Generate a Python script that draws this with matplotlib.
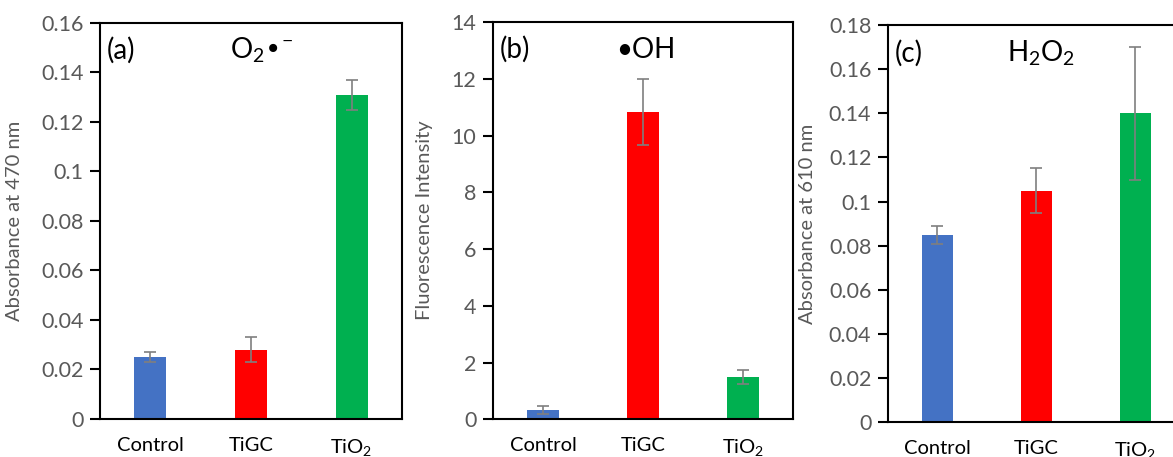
import matplotlib.pyplot as plt

plt.rcParams['font.family'] = ['Lato', 'DejaVu Sans']
plt.rcParams['mathtext.default'] = 'regular'

categories = ['Control', 'TiGC', 'TiO$_2$']
colors = ['#4472C4', '#FF0000', '#00B050']

# (a) superoxide
o2_vals = [0.025, 0.028, 0.131]
o2_err = [0.002, 0.005, 0.006]
# (b) hydroxyl radical
oh_vals = [0.33, 10.83, 1.49]
oh_err = [0.14, 1.15, 0.23]
# (c) hydrogen peroxide
h2o2_vals = [0.085, 0.105, 0.14]
h2o2_err = [0.004, 0.01, 0.03]

panels = [
    dict(vals=o2_vals, err=o2_err, ylim=(0, 0.16), step=0.02, ylabel='Absorbance at 470 nm',
         tag='(a)', title='O$_2$•$^{-}$', tx=0.43, pos=[0.0853, 0.0832, 0.2574, 0.8665], lx=-0.255),
    dict(vals=oh_vals, err=oh_err, ylim=(0, 14), step=2, ylabel='Fluorescence Intensity',
         tag='(b)', title='•OH', tx=0.41, pos=[0.4203, 0.0825, 0.2557, 0.8694], lx=-0.20),
    dict(vals=h2o2_vals, err=h2o2_err, ylim=(0, 0.18), step=0.02, ylabel='Absorbance at 610 nm',
         tag='(c)', title='H$_2$O$_2$', tx=0.40, pos=[0.757, 0.0759, 0.2532, 0.8694], lx=-0.243),
]

fig = plt.figure(figsize=(11.73, 4.57), dpi=100)

for p in panels:
    ax = fig.add_axes(p['pos'])
    x = range(len(categories))
    ax.bar(x, p['vals'], width=0.32, color=colors, yerr=p['err'],
           error_kw=dict(ecolor='#7F7F7F', elinewidth=1.2, capsize=4, capthick=1.2))
    ax.set_xlim(-0.5, 2.5)
    ax.set_ylim(*p['ylim'])
    n = int(round(p['ylim'][1] / p['step']))
    ticks = [i * p['step'] for i in range(n + 1)]
    ax.set_yticks(ticks)
    ax.set_yticklabels(['0'] + ['%g' % round(t, 2) for t in ticks[1:]])
    ax.set_xticks(list(x))
    ax.set_xticklabels(categories, fontsize=14.5, color='black')
    ax.tick_params(axis='x', length=0, pad=13)
    ax.tick_params(axis='y', direction='out', length=7, width=1.5, labelsize=15.5,
                   labelcolor='#595959', pad=5)
    for s in ax.spines.values():
        s.set_linewidth(1.5)
        s.set_color('black')
    ax.set_ylabel(p['ylabel'], fontsize=14.5, color='#595959')
    ax.yaxis.set_label_coords(p['lx'], 0.5)
    ax.text(0.023, 0.93, p['tag'], transform=ax.transAxes, fontsize=20, va='center')
    ax.text(p['tx'], 0.93, p['title'], transform=ax.transAxes, fontsize=20, va='center')

plt.savefig('out.png')
